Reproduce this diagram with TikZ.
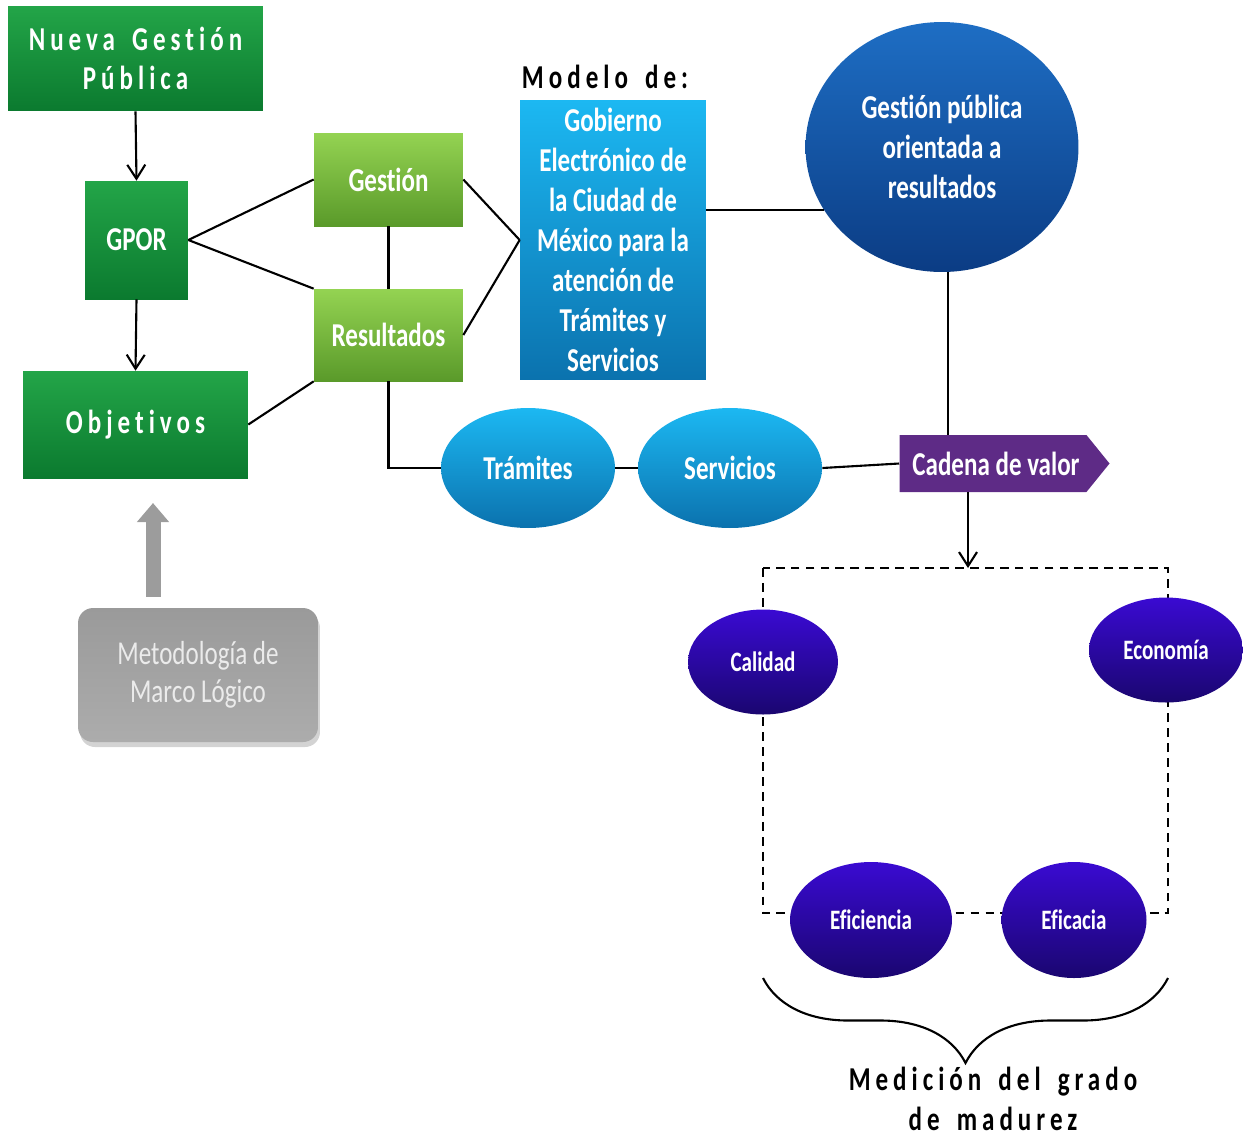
\documentclass[tikz,border=0pt]{standalone}
\usepackage{fontspec}
\setmainfont{Carlito}[FakeStretch=0.75,Ligatures=NoCommon]
\newfontfamily\spacedfont{Carlito}[FakeStretch=0.75,LetterSpace=15,WordSpace=1.6,Ligatures=NoCommon]
\usetikzlibrary{arrows.meta,shapes.geometric,shapes.symbols,shadows,decorations.pathreplacing}

\definecolor{greentop}{HTML}{23A548}
\definecolor{greenbot}{HTML}{0B7A2F}
\definecolor{limetop}{HTML}{94D352}
\definecolor{limebot}{HTML}{5A9A2A}
\definecolor{cyantop}{HTML}{1CB8F2}
\definecolor{cyanbot}{HTML}{0B72AE}
\definecolor{bluetop}{HTML}{1E6EC4}
\definecolor{bluebot}{HTML}{0B3C84}
\definecolor{indigotop}{HTML}{3A0AD2}
\definecolor{indigobot}{HTML}{1A0670}
\definecolor{cadpurple}{HTML}{5E2B86}
\definecolor{metgraytop}{HTML}{9A9A9A}
\definecolor{metgraybot}{HTML}{ACACAC}
\definecolor{arrowgray}{HTML}{9C9C9C}

\tikzset{
  bigfont/.style={font=\bfseries\fontsize{19}{22.7}\selectfont},
  darkbox/.style={rectangle, top color=greentop, bottom color=greenbot, text=white, align=center, inner sep=0pt, bigfont},
  limebox/.style={rectangle, top color=limetop, bottom color=limebot, text=white, align=center, inner sep=0pt, bigfont},
  cyanshape/.style={top color=cyantop, bottom color=cyanbot, text=white, align=center, inner sep=0pt, bigfont},
  indigoshape/.style={ellipse, top color=indigotop, bottom color=indigobot, text=white, align=center, inner sep=0pt, font=\bfseries\fontsize{16}{19}\selectfont},
  joinline/.style={line width=1.2pt, black},
  arrowline/.style={joinline, -{Straight Barb[length=0.28cm,width=0.36cm]}},
}

\begin{document}
\begin{tikzpicture}[x=0.02cm,y=-0.02cm]
  \useasboundingbox (0,0) rectangle (1243,1137);

  % Drawing box Nueva Gestion Publica
  \node [darkbox, minimum width=5.1cm, minimum height=2.1cm] (ngp) at (135.5,58.5)
    {\spacedfont\bfseries Nueva Gestión\\[-0.5pt]\spacedfont\bfseries Pública};

  % Drawing box GPOR
  \node [darkbox, minimum width=2.06cm, minimum height=2.36cm] (gpor) at (136.5,240) {GPOR};

  % Drawing box Objetivos
  \node [darkbox, minimum width=4.5cm, minimum height=2.14cm] (obj) at (135.5,424.5)
    {\spacedfont\bfseries Objetivos};

  % Drawing boxes Gestion and Resultados
  \node [limebox, minimum width=2.98cm, minimum height=1.86cm] (gest) at (388.5,179.5) {Gestión};
  \node [limebox, minimum width=2.98cm, minimum height=1.84cm] (res) at (388.5,335) {Resultados};

  % Drawing box of the model
  \node [font=\spacedfont\bfseries\fontsize{19}{22.7}\selectfont] (modelo) at (605,77) {Modelo de:};
  \node [cyanshape, rectangle, minimum width=3.72cm, minimum height=5.6cm] (gob) at (613,240)
    {Gobierno\\Electrónico de\\la Ciudad de\\México para la\\atención de\\Trámites y\\Servicios};

  % Drawing circle Gestion publica orientada a resultados
  \node [ellipse, top color=bluetop, bottom color=bluebot, text=white, align=center, inner sep=0pt,
    bigfont, minimum width=5.46cm, minimum height=5cm] (gpr) at (942,147)
    {Gestión pública\\orientada a\\resultados};

  % Drawing ellipses Tramites and Servicios
  \node [cyanshape, ellipse, minimum width=3.48cm, minimum height=2.4cm] (tram) at (528,468) {Trámites};
  \node [cyanshape, ellipse, minimum width=3.68cm, minimum height=2.4cm] (serv) at (730,468) {Servicios};

  % Drawing arrow box Cadena de valor
  \node [signal, signal to=east, signal pointer angle=102, fill=cadpurple, text=white, inner sep=0pt,
    bigfont, minimum width=4.2cm, minimum height=1.14cm] (cad) at (993,463.5) {\hspace{0.12cm}Cadena de valor};

  % Drawing dashed frame
  \coordinate (frametop) at (968,568);
  \coordinate (downline) at (948,300);
  \draw [line width=1.2pt, dash pattern=on 5pt off 3.5pt] (763,568) rectangle (1168,913);

  % Drawing ellipses of the measures
  \node [indigoshape, minimum width=3cm, minimum height=2.1cm] (cal) at (763,662) {Calidad};
  \node [indigoshape, minimum width=3.08cm, minimum height=2.1cm] (eco) at (1166,650) {Economía};
  \node [indigoshape, minimum width=3.24cm, minimum height=2.32cm] (efi) at (871,920) {Eficiencia};
  \node [indigoshape, minimum width=2.9cm, minimum height=2.32cm] (efc) at (1074,920) {Eficacia};

  % Drawing box Metodologia de Marco Logico
  \node [rectangle, rounded corners=0.3cm, top color=metgraytop, bottom color=metgraybot, draw=none,
    drop shadow={shadow xshift=0.04cm, shadow yshift=-0.1cm, opacity=0.35},
    text=white!92!black, align=center, font=\fontsize{19}{22.7}\selectfont,
    minimum width=4.8cm, minimum height=2.68cm] (met) at (198,675)
    {\raisebox{-2.3pt}{\shortstack{Metodología de\\[2pt]Marco Lógico}}};

  % Drawing gray arrow
  \coordinate (grayend) at (153,503);
  \draw [line width=0.3cm, arrowgray, -{Triangle[width=0.62cm,length=0.38cm]}] (met.north -| grayend) ++(0,-11) -- (grayend);

  % Drawing connectors
  \draw [arrowline] (ngp.south) -- (gpor.north);
  \draw [arrowline] (gpor.south) -- (obj.north);
  \draw [joinline] (gpor.east) -- (gest.west);
  \draw [joinline] (gpor.east) -- (res.north west);
  \draw [joinline] (gest) -- (res);
  \draw [joinline] (obj.east) -- (res.south west);
  \draw [joinline] (res.south) |- (tram.west);
  \draw [joinline] (gest.east) -- (gob.west);
  \draw [joinline] (res.east) -- (gob.west);
  \draw [joinline] (gpr.208) -- (gpr.208 -| gob.east);
  \draw [joinline] (gpr.south -| downline) -- (downline |- cad.north);
  \draw [joinline] (tram) -- (serv);
  \draw [joinline] (serv.east) -- (cad.west);
  \draw [arrowline] (frametop |- cad.south) -- (frametop);

  % Drawing brace and its label
  \draw [line width=1.2pt, decorate, decoration={brace, amplitude=1.7cm}] (1168,978) -- (763,978);
  \node [font=\spacedfont\bfseries\fontsize{19}{22.7}\selectfont, align=center] (medicion) at (993,1099)
    {Medición del grado\\de madurez};
\end{tikzpicture}
\end{document}
